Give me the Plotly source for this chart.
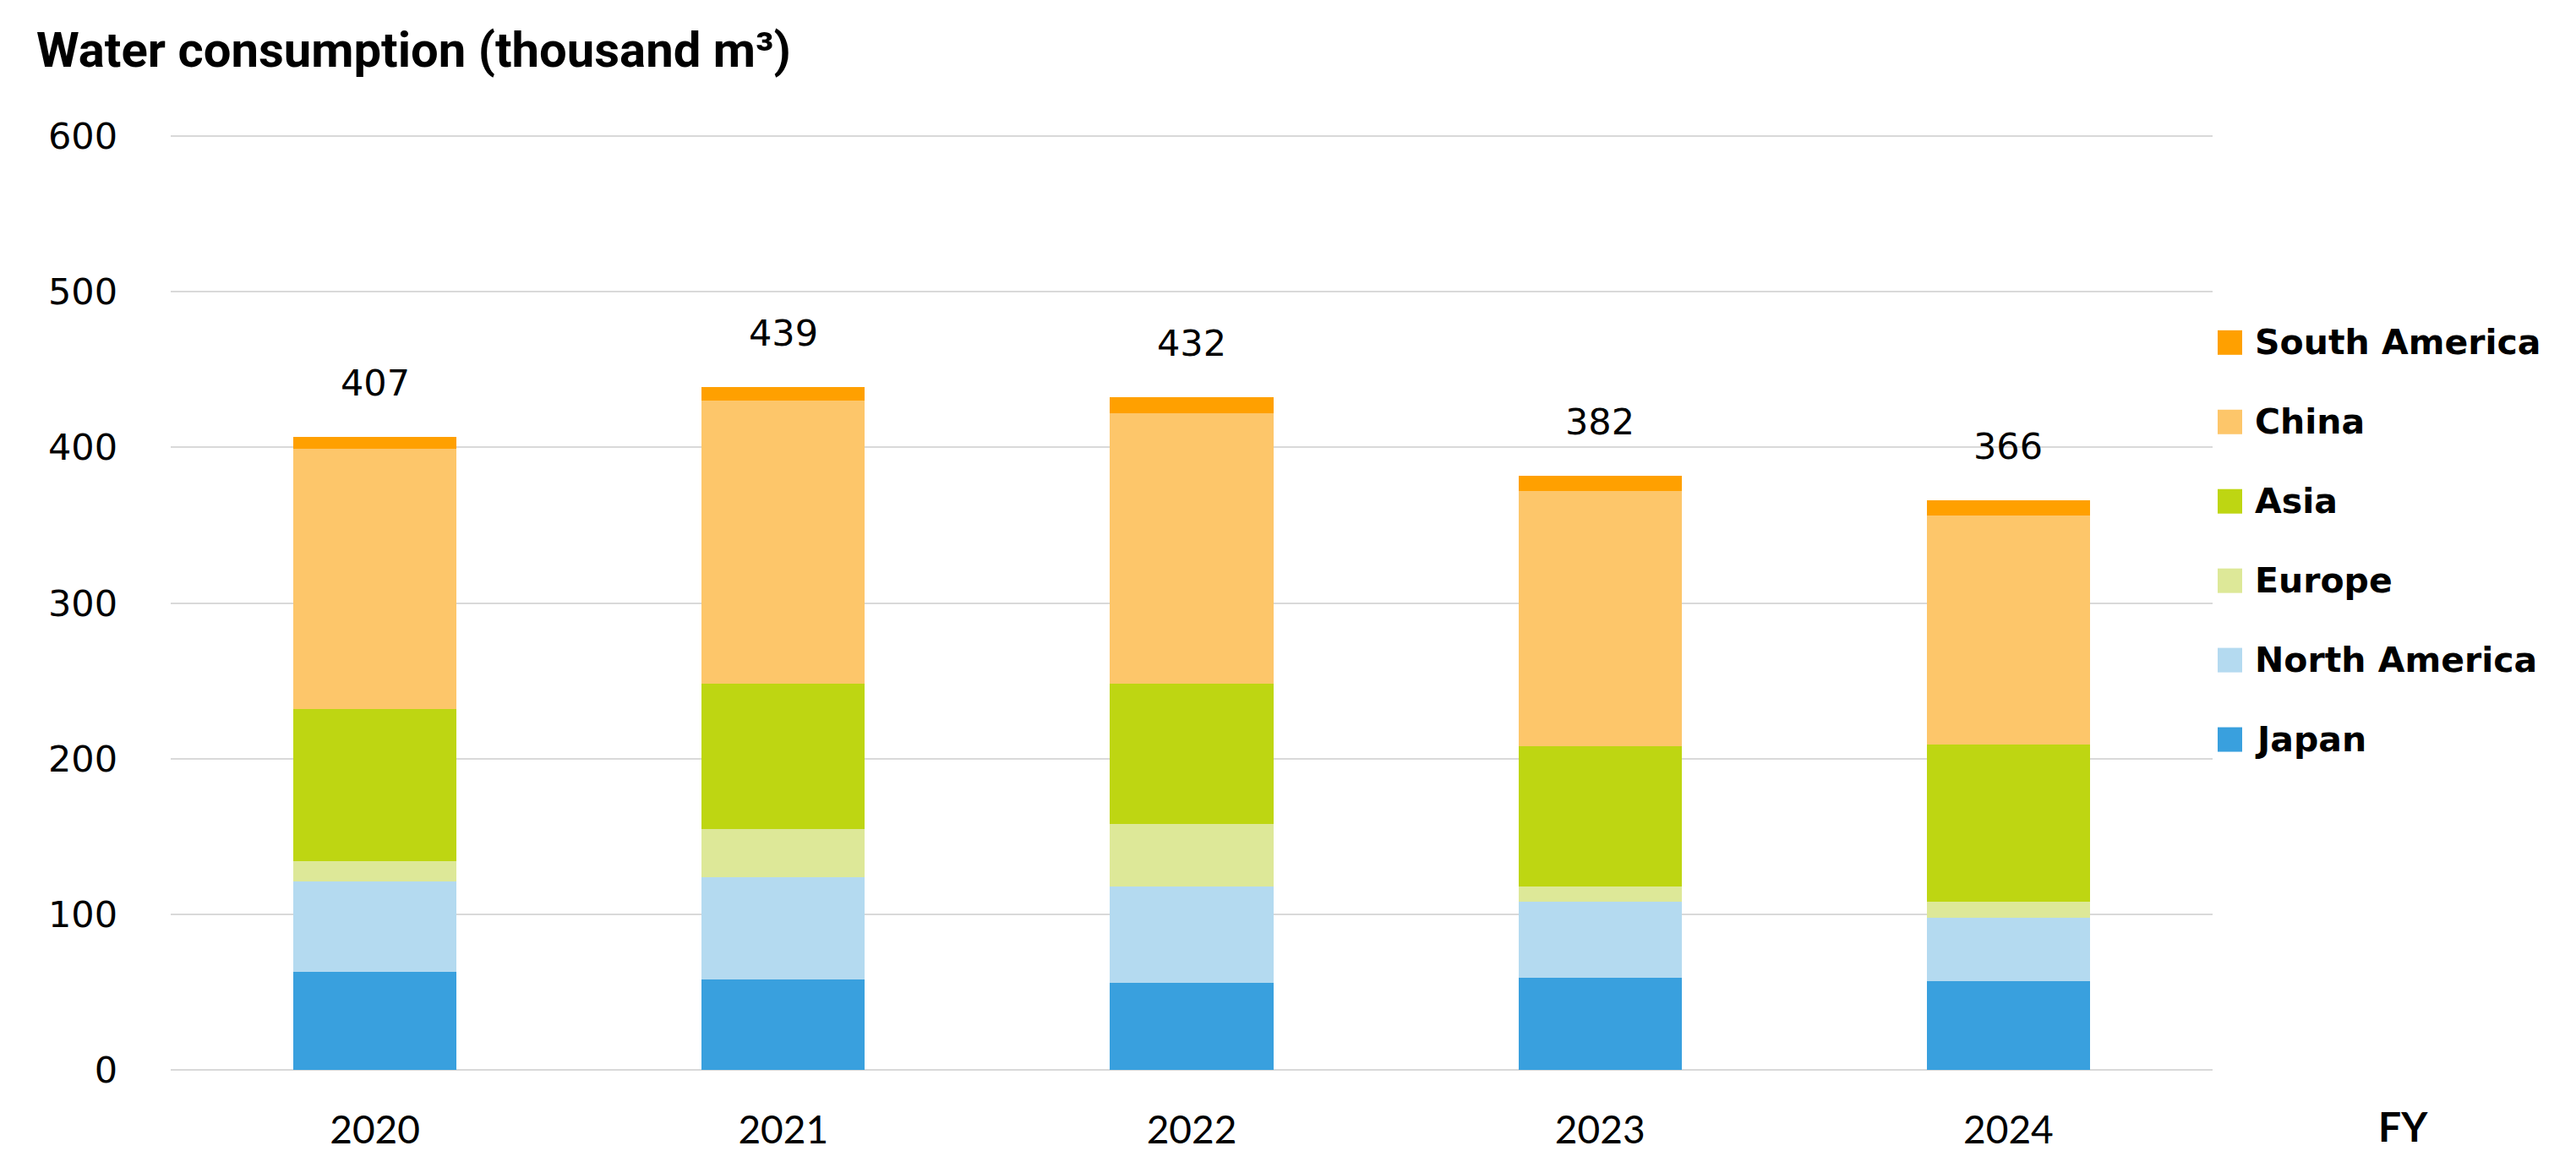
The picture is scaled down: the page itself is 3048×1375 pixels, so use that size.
import plotly.graph_objects as go

# ---- data ----
years = ["2020", "2021", "2022", "2023", "2024"]
japan = [63, 58, 56, 59, 57]
north_america = [58, 66, 62, 49, 41]
europe = [13, 31, 40, 10, 10]
asia = [98, 93, 90, 90, 101]
china = [167, 182, 174, 164, 147]
south_america = [8, 9, 10, 10, 10]
totals = [407, 439, 432, 382, 366]

series_names = ["Japan", "North America", "Europe", "Asia", "China", "South America"]
series_values = [japan, north_america, europe, asia, china, south_america]
series_colors = ["#39A0DE", "#B4DAF0", "#DDE898", "#BED612", "#FDC66A", "#FFA000"]

y_ticks = [0, 100, 200, 300, 400, 500, 600]

# figure size (page body margin of 8px is accounted for)
W, H = 3040, 1367
ML, MT = 194, 152
PW, PH = 2416, 1109
MR = W - ML - PW
MB = H - MT - PH

tick_font = dict(family="DejaVu Sans, Verdana, sans-serif", size=43, color="#000000")
xtick_font = dict(family="Lato, Open Sans, sans-serif", size=46, color="#000000")
legend_font = dict(family="DejaVu Sans, Noto Sans, sans-serif", size=41, color="#000000")

fig = go.Figure()
for name, vals, col in zip(series_names, series_values, series_colors):
    fig.add_trace(go.Bar(
        x=years, y=vals, name=name,
        marker=dict(color=col, line=dict(width=0)),
        showlegend=False,
    ))

annotations = []
# total labels above the stacks (category axis: positions are category indices)
for idx, tot in enumerate(totals):
    annotations.append(dict(
        x=idx, y=tot, xref="x", yref="y", text=str(tot), showarrow=False,
        yanchor="bottom", xanchor="center", yshift=37, font=tick_font,
    ))

# "FY" label
annotations.append(dict(
    x=1, y=0, xref="paper", yref="paper", text="<b>FY</b>", showarrow=False,
    xanchor="center", yanchor="middle", xshift=225, yshift=-66,
    font=dict(family="Lato, Open Sans, sans-serif", size=48, color="#000000"),
))

# custom legend (top to bottom: reverse of stack order)
shapes = []
legend_x = (2616 - ML) / PW
legend_top = (MT + PH - 398) / PH
legend_step = 94.2 / PH
for i, (name, col) in enumerate(zip(series_names[::-1], series_colors[::-1])):
    ly = legend_top - i * legend_step
    shapes.append(dict(
        type="rect", xref="paper", yref="paper",
        xsizemode="pixel", ysizemode="pixel",
        xanchor=legend_x, yanchor=ly, x0=0, x1=29, y0=-14.5, y1=14.5,
        fillcolor=col, line=dict(width=0), layer="above",
    ))
    annotations.append(dict(
        x=legend_x, y=ly, xref="paper", yref="paper", text="<b>" + name + "</b>",
        showarrow=False, xanchor="left", yanchor="middle", xshift=42,
        font=legend_font,
    ))

fig.update_layout(
    width=W, height=H,
    margin=dict(l=ML, r=MR, t=MT, b=MB, pad=0),
    barmode="stack", bargap=0.6,
    paper_bgcolor="white", plot_bgcolor="white",
    title=dict(
        text="<b>Water consumption (thousand m³)</b>",
        x=35 / W, xanchor="left", xref="container",
        y=1 - 51 / H, yanchor="middle", yref="container",
        font=dict(family="Roboto, sans-serif", size=58, color="#000000"),
    ),
    xaxis=dict(
        type="category", categoryorder="array", categoryarray=years,
        range=[-0.5, len(years) - 0.5],
        showgrid=False, showline=False, zeroline=False,
        tickfont=xtick_font, ticks="", ticklabelstandoff=40,
    ),
    yaxis=dict(
        range=[0, 600.6], tickvals=y_ticks, ticktext=[str(v) for v in y_ticks],
        showgrid=True, gridcolor="#D9D9D9", gridwidth=2,
        zeroline=True, zerolinecolor="#D9D9D9", zerolinewidth=2,
        showline=False, ticks="", tickfont=tick_font, ticklabelstandoff=62,
    ),
    annotations=annotations,
    shapes=shapes,
)

fig.write_html("out.html")
